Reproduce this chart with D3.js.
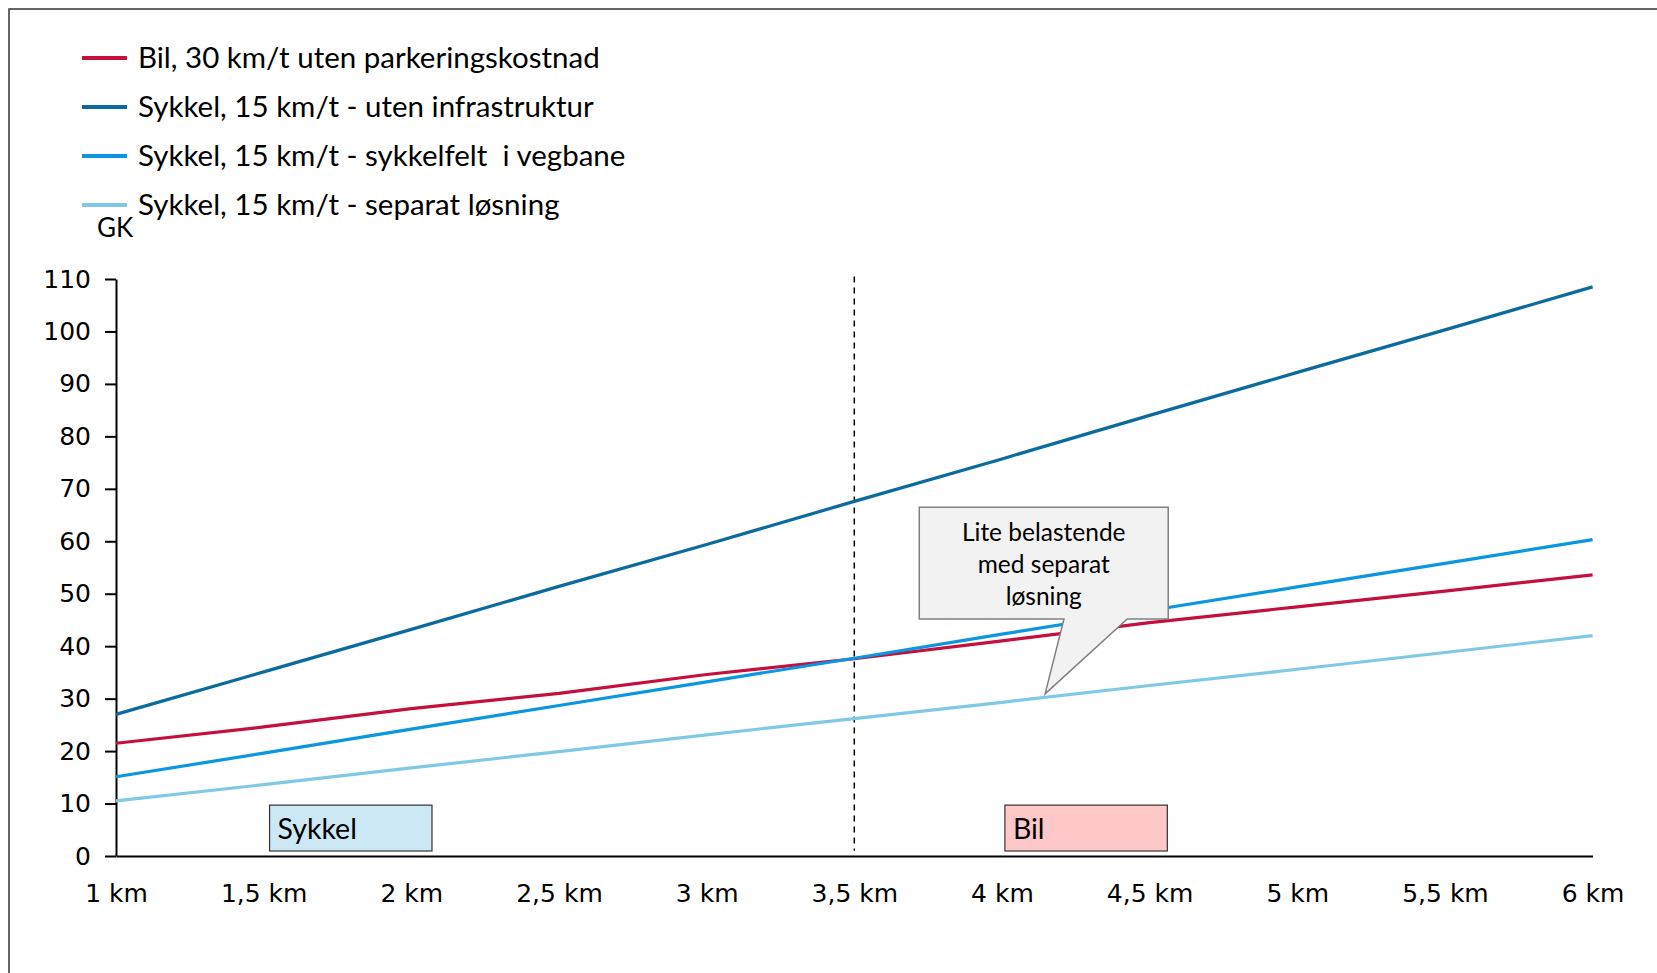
<!DOCTYPE html>
<meta charset="utf-8">
<style>
body { margin:0; background:#fff; }
.axis path, .axis line { stroke:#000; stroke-width:2px; fill:none; }
.axis text { font-family:"DejaVu Sans", Verdana, sans-serif; font-size:25px; fill:#000; }
.leg text, .note text { font-family:Lato, sans-serif; fill:#000; white-space:pre; }
</style>
<body>
<script src="https://d3js.org/d3.v7.min.js"></script>
<script>

// distances (km) and their tick labels
var distances = [1, 1.5, 2, 2.5, 3, 3.5, 4, 4.5, 5, 5.5, 6];
var xLabels = ["1 km","1,5 km","2 km","2,5 km","3 km","3,5 km","4 km","4,5 km","5 km","5,5 km","6 km"];
var yTicks = [0,10,20,30,40,50,60,70,80,90,100,110];

// generalised cost (GK) per series
var bil       = [21.5, 24.6, 28.1, 31.0, 34.6, 37.6, 41.0, 44.5, 47.5, 50.5, 53.6];
var utenInfra = [27.0, 35.1, 43.2, 51.4, 59.4, 67.6, 75.7, 84.0, 92.2, 100.3, 108.5];
var sykkelfelt= [15.1, 19.6, 24.2, 28.7, 33.2, 37.7, 42.3, 46.8, 51.3, 55.8, 60.3];
var separat   = [10.5, 13.6, 16.8, 19.9, 23.1, 26.2, 29.3, 32.5, 35.6, 38.8, 42.0];

var names = ["Bil, 30 km/t uten parkeringskostnad",
             "Sykkel, 15 km/t - uten infrastruktur",
             "Sykkel, 15 km/t - sykkelfelt  i vegbane",
             "Sykkel, 15 km/t - separat løsning"];
var colors = ["#c40f3f", "#0b6a9e", "#0a97e0", "#80c9e6"];
var series = [bil, utenInfra, sykkelfelt, separat];

// annotations (data units)
var divider = 3.5;
var zones = [{label:"Sykkel", x0:1.52, x1:2.07, fill:"#cce8f4"},
             {label:"Bil",    x0:4.01, x1:4.56, fill:"#ffc8c8"}];
var zoneY = [0.95, 9.7];
var callout = {x0:3.72, x1:4.563, y0:45.2, y1:66.5, b0:4.21, b1:4.424, tipX:4.146, tipY:30.9,
               lines:["Lite belastende","med separat","løsning"]};

var W = 1657, H = 973;
var svg = d3.select("body").append("svg").attr("width", W).attr("height", H);

svg.append("rect").attr("x",9).attr("y",9).attr("width",W+20).attr("height",H+20)
  .attr("fill","none").attr("stroke","#333").attr("stroke-width",1.5);

var x = d3.scaleLinear().domain([1,6]).range([116, 1592.6]);
var y = d3.scaleLinear().domain([0,110]).range([856, 279]);

// y axis
svg.append("g").attr("class","axis").attr("transform","translate(116,0)")
  .call(d3.axisLeft(y).tickValues(yTicks).tickSize(11).tickSizeOuter(0).tickPadding(14));

// x axis
svg.append("g").attr("class","axis").attr("transform","translate(0,856)")
  .call(d3.axisBottom(x).tickValues(distances).tickSize(0).tickPadding(28)
    .tickFormat(function(d,i){ return xLabels[i]; }));

svg.append("text").attr("x",97).attr("y",237).text("GK")
  .style("font-family","Lato, sans-serif").style("font-size","26px");

// divider
svg.append("line").attr("x1",x(divider)).attr("x2",x(divider))
  .attr("y1",y(110.5)).attr("y2",y(1))
  .attr("stroke","#000").attr("stroke-width",1.5).attr("stroke-dasharray","6,5");

// zone boxes
var zg = svg.append("g").attr("class","note");
zones.forEach(function(z){
  zg.append("rect").attr("x",x(z.x0)).attr("y",y(zoneY[1]))
    .attr("width",x(z.x1)-x(z.x0)).attr("height",y(zoneY[0])-y(zoneY[1]))
    .attr("fill",z.fill).attr("stroke","#333").attr("stroke-width",1.2);
  zg.append("text").attr("x",x(z.x0)+8).attr("y",y(zoneY[0])-12)
    .style("font-size","28.5px").text(z.label);
});

// lines
var line = d3.line().x(function(d,i){ return x(distances[i]); }).y(function(d){ return y(d); });
series.forEach(function(s,i){
  svg.append("path").datum(s).attr("d",line).attr("fill","none")
    .attr("stroke",colors[i]).attr("stroke-width",3.2);
});

// callout
var c = callout;
var pts = [[x(c.x0),y(c.y1)],[x(c.x1),y(c.y1)],[x(c.x1),y(c.y0)],[x(c.b1),y(c.y0)],
           [x(c.tipX),y(c.tipY)],[x(c.b0),y(c.y0)],[x(c.x0),y(c.y0)]];
var cg = svg.append("g").attr("class","note");
cg.append("path").attr("d","M"+pts.join("L")+"Z")
  .attr("fill","#f2f2f2").attr("stroke","#808080").attr("stroke-width",1.5);
c.lines.forEach(function(t,i){
  cg.append("text").attr("x",(x(c.x0)+x(c.x1))/2).attr("y",y(c.y1)+34+i*32)
    .attr("text-anchor","middle").style("font-size","24.5px").text(t);
});

// legend
var leg = svg.append("g").attr("class","leg");
names.forEach(function(n,i){
  var ly = 58 + i*49;
  leg.append("line").attr("x1",82).attr("x2",127).attr("y1",ly).attr("y2",ly)
    .attr("stroke",colors[i]).attr("stroke-width",4);
  leg.append("text").attr("x",138).attr("y",ly+10).style("font-size","29.5px").text(n);
});
</script>
</body>
